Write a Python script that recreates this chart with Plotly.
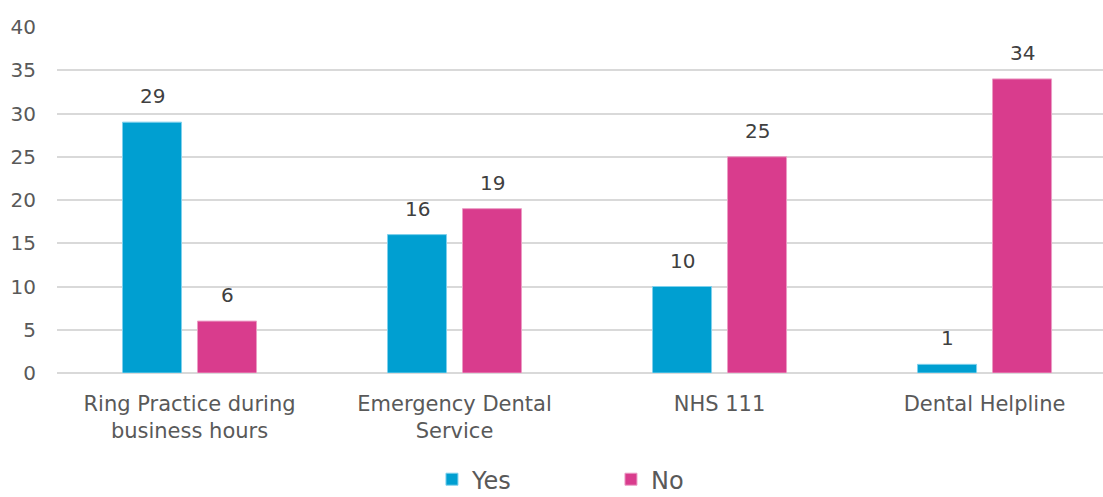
import plotly.graph_objects as go

categories = ["Ring Practice during<br>business hours", "Emergency Dental<br>Service", "NHS 111", "Dental Helpline"]
yes_values = [29, 16, 10, 1]
no_values = [6, 19, 25, 34]

FONT = "DejaVu Sans"
LABEL_COLOR = "#404040"
AXIS_COLOR = "#595959"

series = [
    ("Yes", yes_values, "#009FD1", "#7fd0ec", -37.5),
    ("No", no_values, "#D93C8D", "#eb9cc5", 37.5),
]

fig = go.Figure()
for name, values, color, edge, shift in series:
    fig.add_trace(go.Bar(
        name=name, x=categories, y=values,
        marker=dict(color=color, line=dict(color=edge, width=1)),
    ))
    # value labels sitting a little above each bar
    for cat, v in zip(categories, values):
        fig.add_annotation(
            x=cat, y=v, xref="x", yref="y", text=str(v), showarrow=False,
            xshift=shift, yshift=12, yanchor="bottom",
            font=dict(family=FONT, size=20, color=LABEL_COLOR),
        )

fig.update_layout(
    width=1103, height=497,
    margin=dict(l=57, r=0, t=27, b=124, autoexpand=False),
    paper_bgcolor="white", plot_bgcolor="white",
    barmode="group", bargap=0.434, bargroupgap=0.213,
    font=dict(family=FONT, size=20, color=AXIS_COLOR),
    showlegend=True,
    legend=dict(
        orientation="h", x=0.5296, xanchor="center",
        yref="container", y=0.035, yanchor="middle",
        font=dict(family=FONT, size=24, color=AXIS_COLOR),
        entrywidth=134, entrywidthmode="pixels",
    ),
)
fig.update_xaxes(
    range=[-0.5, 3.447],
    showgrid=False, showline=False, ticks="", automargin=False,
    ticklabelstandoff=16,
    tickfont=dict(family=FONT, size=21, color=AXIS_COLOR),
)
fig.update_yaxes(
    range=[0, 40], dtick=5, showgrid=True, gridcolor="#D9D9D9", gridwidth=1.5,
    zeroline=True, zerolinecolor="#D9D9D9", zerolinewidth=1.5,
    showline=False, ticks="", ticklabelstandoff=20, automargin=False,
    tickfont=dict(family=FONT, size=20, color=AXIS_COLOR),
)

fig.write_html("out.html")
